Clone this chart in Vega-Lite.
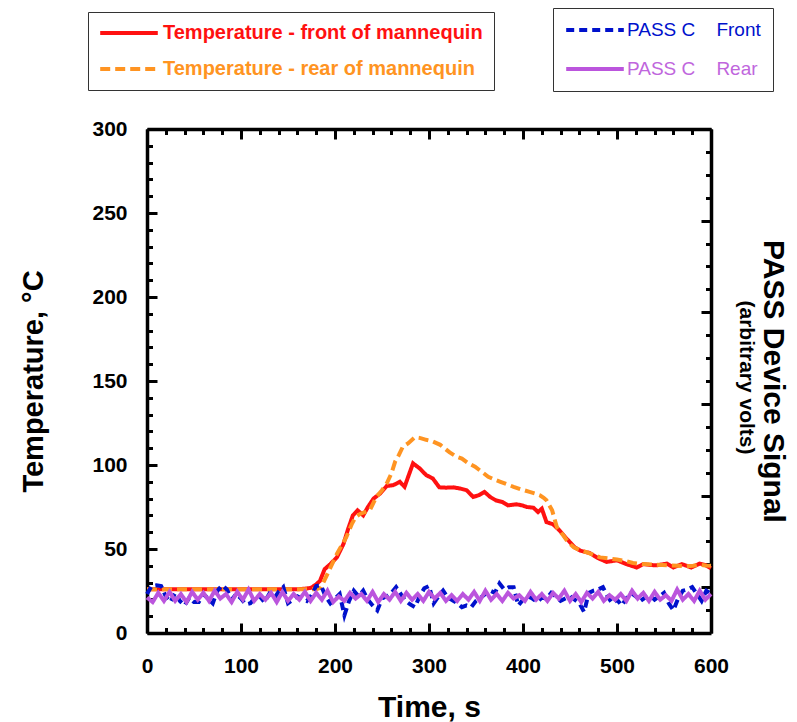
{
"$schema": "https://vega.github.io/schema/vega-lite/v6.json",
"width": 564, "height": 504,
"autosize": {"type": "none"},
"padding": {"left": 147, "top": 129, "right": 86, "bottom": 89},
"background": "white",
"config": {"view": {"stroke": null}, "font": "Liberation Sans"},
"datasets": {
"temp": [
{"t":0,"v":26,"s":"Temperature - front of mannequin"},{"t":10,"v":26,"s":"Temperature - front of mannequin"},{"t":20,"v":26,"s":"Temperature - front of mannequin"},{"t":30,"v":26,"s":"Temperature - front of mannequin"},{"t":40,"v":26,"s":"Temperature - front of mannequin"},{"t":50,"v":26,"s":"Temperature - front of mannequin"},{"t":60,"v":26,"s":"Temperature - front of mannequin"},{"t":70,"v":26,"s":"Temperature - front of mannequin"},{"t":80,"v":26,"s":"Temperature - front of mannequin"},{"t":90,"v":26,"s":"Temperature - front of mannequin"},{"t":100,"v":26,"s":"Temperature - front of mannequin"},{"t":110,"v":26,"s":"Temperature - front of mannequin"},{"t":120,"v":26,"s":"Temperature - front of mannequin"},{"t":130,"v":26,"s":"Temperature - front of mannequin"},{"t":140,"v":26,"s":"Temperature - front of mannequin"},{"t":150,"v":26,"s":"Temperature - front of mannequin"},{"t":160,"v":26,"s":"Temperature - front of mannequin"},{"t":170,"v":26.5,"s":"Temperature - front of mannequin"},{"t":175,"v":27,"s":"Temperature - front of mannequin"},{"t":180,"v":29,"s":"Temperature - front of mannequin"},{"t":184,"v":31,"s":"Temperature - front of mannequin"},{"t":189,"v":38,"s":"Temperature - front of mannequin"},{"t":195,"v":41,"s":"Temperature - front of mannequin"},{"t":202,"v":45,"s":"Temperature - front of mannequin"},{"t":209,"v":53,"s":"Temperature - front of mannequin"},{"t":214,"v":62,"s":"Temperature - front of mannequin"},{"t":219,"v":70,"s":"Temperature - front of mannequin"},{"t":224,"v":73,"s":"Temperature - front of mannequin"},{"t":230,"v":70,"s":"Temperature - front of mannequin"},{"t":235,"v":75,"s":"Temperature - front of mannequin"},{"t":241,"v":80,"s":"Temperature - front of mannequin"},{"t":248,"v":83,"s":"Temperature - front of mannequin"},{"t":255,"v":87.5,"s":"Temperature - front of mannequin"},{"t":262,"v":88,"s":"Temperature - front of mannequin"},{"t":269,"v":90,"s":"Temperature - front of mannequin"},{"t":274,"v":87,"s":"Temperature - front of mannequin"},{"t":283,"v":101,"s":"Temperature - front of mannequin"},{"t":290,"v":98,"s":"Temperature - front of mannequin"},{"t":297,"v":94,"s":"Temperature - front of mannequin"},{"t":304,"v":92,"s":"Temperature - front of mannequin"},{"t":311,"v":86.7,"s":"Temperature - front of mannequin"},{"t":318,"v":86.5,"s":"Temperature - front of mannequin"},{"t":326,"v":86.7,"s":"Temperature - front of mannequin"},{"t":333,"v":86,"s":"Temperature - front of mannequin"},{"t":340,"v":85,"s":"Temperature - front of mannequin"},{"t":347,"v":81,"s":"Temperature - front of mannequin"},{"t":353,"v":82,"s":"Temperature - front of mannequin"},{"t":359,"v":84,"s":"Temperature - front of mannequin"},{"t":365,"v":81,"s":"Temperature - front of mannequin"},{"t":371,"v":79,"s":"Temperature - front of mannequin"},{"t":378,"v":78,"s":"Temperature - front of mannequin"},{"t":384,"v":76,"s":"Temperature - front of mannequin"},{"t":393,"v":76.6,"s":"Temperature - front of mannequin"},{"t":399,"v":76,"s":"Temperature - front of mannequin"},{"t":404,"v":75,"s":"Temperature - front of mannequin"},{"t":411,"v":74.6,"s":"Temperature - front of mannequin"},{"t":416,"v":72,"s":"Temperature - front of mannequin"},{"t":420,"v":74,"s":"Temperature - front of mannequin"},{"t":425,"v":66,"s":"Temperature - front of mannequin"},{"t":432,"v":64.7,"s":"Temperature - front of mannequin"},{"t":439,"v":61,"s":"Temperature - front of mannequin"},{"t":445,"v":57,"s":"Temperature - front of mannequin"},{"t":450,"v":54,"s":"Temperature - front of mannequin"},{"t":455,"v":51,"s":"Temperature - front of mannequin"},{"t":461,"v":49,"s":"Temperature - front of mannequin"},{"t":471,"v":47.6,"s":"Temperature - front of mannequin"},{"t":480,"v":44.5,"s":"Temperature - front of mannequin"},{"t":489,"v":42.3,"s":"Temperature - front of mannequin"},{"t":500,"v":43.3,"s":"Temperature - front of mannequin"},{"t":510,"v":41,"s":"Temperature - front of mannequin"},{"t":521,"v":39,"s":"Temperature - front of mannequin"},{"t":528,"v":41,"s":"Temperature - front of mannequin"},{"t":535,"v":40.5,"s":"Temperature - front of mannequin"},{"t":542,"v":40.3,"s":"Temperature - front of mannequin"},{"t":553,"v":41.3,"s":"Temperature - front of mannequin"},{"t":560,"v":39,"s":"Temperature - front of mannequin"},{"t":569,"v":41,"s":"Temperature - front of mannequin"},{"t":579,"v":39,"s":"Temperature - front of mannequin"},{"t":588,"v":41.3,"s":"Temperature - front of mannequin"},{"t":594,"v":40.5,"s":"Temperature - front of mannequin"},{"t":600,"v":38.5,"s":"Temperature - front of mannequin"},
{"t":0,"v":26,"s":"Temperature - rear of mannequin"},{"t":20,"v":26,"s":"Temperature - rear of mannequin"},{"t":40,"v":26,"s":"Temperature - rear of mannequin"},{"t":60,"v":26,"s":"Temperature - rear of mannequin"},{"t":80,"v":26,"s":"Temperature - rear of mannequin"},{"t":100,"v":26,"s":"Temperature - rear of mannequin"},{"t":120,"v":26,"s":"Temperature - rear of mannequin"},{"t":140,"v":26,"s":"Temperature - rear of mannequin"},{"t":160,"v":26,"s":"Temperature - rear of mannequin"},{"t":180,"v":26,"s":"Temperature - rear of mannequin"},{"t":185,"v":27,"s":"Temperature - rear of mannequin"},{"t":191,"v":34,"s":"Temperature - rear of mannequin"},{"t":196,"v":40,"s":"Temperature - rear of mannequin"},{"t":202,"v":47,"s":"Temperature - rear of mannequin"},{"t":207,"v":52,"s":"Temperature - rear of mannequin"},{"t":212,"v":57,"s":"Temperature - rear of mannequin"},{"t":218,"v":65,"s":"Temperature - rear of mannequin"},{"t":222,"v":69,"s":"Temperature - rear of mannequin"},{"t":227,"v":71,"s":"Temperature - rear of mannequin"},{"t":232,"v":72,"s":"Temperature - rear of mannequin"},{"t":237,"v":73,"s":"Temperature - rear of mannequin"},{"t":244,"v":81,"s":"Temperature - rear of mannequin"},{"t":250,"v":85,"s":"Temperature - rear of mannequin"},{"t":255,"v":89,"s":"Temperature - rear of mannequin"},{"t":260,"v":95,"s":"Temperature - rear of mannequin"},{"t":264,"v":102,"s":"Temperature - rear of mannequin"},{"t":268,"v":106,"s":"Temperature - rear of mannequin"},{"t":272,"v":110.7,"s":"Temperature - rear of mannequin"},{"t":278,"v":113,"s":"Temperature - rear of mannequin"},{"t":285,"v":116.5,"s":"Temperature - rear of mannequin"},{"t":291,"v":116,"s":"Temperature - rear of mannequin"},{"t":297,"v":115,"s":"Temperature - rear of mannequin"},{"t":304,"v":114,"s":"Temperature - rear of mannequin"},{"t":312,"v":112,"s":"Temperature - rear of mannequin"},{"t":322,"v":107.5,"s":"Temperature - rear of mannequin"},{"t":329,"v":105,"s":"Temperature - rear of mannequin"},{"t":335,"v":103.8,"s":"Temperature - rear of mannequin"},{"t":342,"v":101,"s":"Temperature - rear of mannequin"},{"t":349,"v":99,"s":"Temperature - rear of mannequin"},{"t":356,"v":96,"s":"Temperature - rear of mannequin"},{"t":363,"v":93,"s":"Temperature - rear of mannequin"},{"t":369,"v":91.5,"s":"Temperature - rear of mannequin"},{"t":376,"v":90,"s":"Temperature - rear of mannequin"},{"t":383,"v":88.5,"s":"Temperature - rear of mannequin"},{"t":390,"v":87,"s":"Temperature - rear of mannequin"},{"t":398,"v":85.5,"s":"Temperature - rear of mannequin"},{"t":407,"v":84,"s":"Temperature - rear of mannequin"},{"t":413,"v":83,"s":"Temperature - rear of mannequin"},{"t":418,"v":82,"s":"Temperature - rear of mannequin"},{"t":422,"v":80.5,"s":"Temperature - rear of mannequin"},{"t":425,"v":79,"s":"Temperature - rear of mannequin"},{"t":428,"v":76,"s":"Temperature - rear of mannequin"},{"t":431,"v":73,"s":"Temperature - rear of mannequin"},{"t":434,"v":67,"s":"Temperature - rear of mannequin"},{"t":436,"v":63,"s":"Temperature - rear of mannequin"},{"t":443,"v":58,"s":"Temperature - rear of mannequin"},{"t":448,"v":54,"s":"Temperature - rear of mannequin"},{"t":454,"v":51,"s":"Temperature - rear of mannequin"},{"t":460,"v":49.5,"s":"Temperature - rear of mannequin"},{"t":468,"v":48,"s":"Temperature - rear of mannequin"},{"t":475,"v":46.5,"s":"Temperature - rear of mannequin"},{"t":482,"v":45,"s":"Temperature - rear of mannequin"},{"t":490,"v":44.5,"s":"Temperature - rear of mannequin"},{"t":500,"v":43.7,"s":"Temperature - rear of mannequin"},{"t":508,"v":43,"s":"Temperature - rear of mannequin"},{"t":517,"v":41.7,"s":"Temperature - rear of mannequin"},{"t":528,"v":41,"s":"Temperature - rear of mannequin"},{"t":539,"v":40.7,"s":"Temperature - rear of mannequin"},{"t":548,"v":40.5,"s":"Temperature - rear of mannequin"},{"t":556,"v":40.3,"s":"Temperature - rear of mannequin"},{"t":565,"v":40,"s":"Temperature - rear of mannequin"},{"t":574,"v":39.7,"s":"Temperature - rear of mannequin"},{"t":581,"v":40,"s":"Temperature - rear of mannequin"},{"t":588,"v":40.7,"s":"Temperature - rear of mannequin"},{"t":594,"v":40.2,"s":"Temperature - rear of mannequin"},{"t":600,"v":40,"s":"Temperature - rear of mannequin"}
],
"pass": [
{"t":0,"v":23.2,"s":"PASS C Front"},{"t":5,"v":28.0,"s":"PASS C Front"},{"t":10,"v":28.4,"s":"PASS C Front"},{"t":15,"v":28.0,"s":"PASS C Front"},{"t":20,"v":21.8,"s":"PASS C Front"},{"t":25,"v":18.4,"s":"PASS C Front"},{"t":30,"v":23.9,"s":"PASS C Front"},{"t":35,"v":19.1,"s":"PASS C Front"},{"t":40,"v":16.4,"s":"PASS C Front"},{"t":45,"v":21.1,"s":"PASS C Front"},{"t":50,"v":18.4,"s":"PASS C Front"},{"t":55,"v":18.4,"s":"PASS C Front"},{"t":60,"v":23.2,"s":"PASS C Front"},{"t":65,"v":20.5,"s":"PASS C Front"},{"t":70,"v":17.7,"s":"PASS C Front"},{"t":75,"v":25.2,"s":"PASS C Front"},{"t":80,"v":28.4,"s":"PASS C Front"},{"t":85,"v":25.9,"s":"PASS C Front"},{"t":90,"v":19.8,"s":"PASS C Front"},{"t":95,"v":23.2,"s":"PASS C Front"},{"t":100,"v":20.5,"s":"PASS C Front"},{"t":105,"v":17.0,"s":"PASS C Front"},{"t":110,"v":17.7,"s":"PASS C Front"},{"t":115,"v":21.1,"s":"PASS C Front"},{"t":120,"v":21.8,"s":"PASS C Front"},{"t":125,"v":18.4,"s":"PASS C Front"},{"t":130,"v":23.2,"s":"PASS C Front"},{"t":135,"v":20.5,"s":"PASS C Front"},{"t":140,"v":24.5,"s":"PASS C Front"},{"t":145,"v":27.3,"s":"PASS C Front"},{"t":150,"v":17.7,"s":"PASS C Front"},{"t":155,"v":19.8,"s":"PASS C Front"},{"t":160,"v":21.8,"s":"PASS C Front"},{"t":165,"v":20.5,"s":"PASS C Front"},{"t":170,"v":19.1,"s":"PASS C Front"},{"t":175,"v":22.5,"s":"PASS C Front"},{"t":180,"v":28.0,"s":"PASS C Front"},{"t":185,"v":28.4,"s":"PASS C Front"},{"t":190,"v":21.8,"s":"PASS C Front"},{"t":195,"v":17.7,"s":"PASS C Front"},{"t":200,"v":20.5,"s":"PASS C Front"},{"t":205,"v":23.2,"s":"PASS C Front"},{"t":210,"v":10.5,"s":"PASS C Front"},{"t":215,"v":19.1,"s":"PASS C Front"},{"t":220,"v":25.2,"s":"PASS C Front"},{"t":225,"v":21.8,"s":"PASS C Front"},{"t":230,"v":25.2,"s":"PASS C Front"},{"t":235,"v":19.8,"s":"PASS C Front"},{"t":240,"v":16.4,"s":"PASS C Front"},{"t":245,"v":13.5,"s":"PASS C Front"},{"t":250,"v":20.5,"s":"PASS C Front"},{"t":255,"v":21.8,"s":"PASS C Front"},{"t":260,"v":23.9,"s":"PASS C Front"},{"t":265,"v":27.3,"s":"PASS C Front"},{"t":270,"v":23.2,"s":"PASS C Front"},{"t":275,"v":19.1,"s":"PASS C Front"},{"t":280,"v":17.0,"s":"PASS C Front"},{"t":285,"v":15.4,"s":"PASS C Front"},{"t":290,"v":21.8,"s":"PASS C Front"},{"t":295,"v":26.6,"s":"PASS C Front"},{"t":300,"v":28.0,"s":"PASS C Front"},{"t":305,"v":17.7,"s":"PASS C Front"},{"t":310,"v":21.8,"s":"PASS C Front"},{"t":315,"v":25.2,"s":"PASS C Front"},{"t":320,"v":21.1,"s":"PASS C Front"},{"t":325,"v":19.5,"s":"PASS C Front"},{"t":330,"v":17.7,"s":"PASS C Front"},{"t":335,"v":15.4,"s":"PASS C Front"},{"t":340,"v":16.4,"s":"PASS C Front"},{"t":345,"v":15.4,"s":"PASS C Front"},{"t":350,"v":19.1,"s":"PASS C Front"},{"t":355,"v":21.1,"s":"PASS C Front"},{"t":360,"v":23.2,"s":"PASS C Front"},{"t":365,"v":25.2,"s":"PASS C Front"},{"t":370,"v":23.9,"s":"PASS C Front"},{"t":375,"v":29.5,"s":"PASS C Front"},{"t":380,"v":25.9,"s":"PASS C Front"},{"t":385,"v":27.3,"s":"PASS C Front"},{"t":390,"v":27.3,"s":"PASS C Front"},{"t":395,"v":16.4,"s":"PASS C Front"},{"t":400,"v":19.8,"s":"PASS C Front"},{"t":405,"v":21.8,"s":"PASS C Front"},{"t":410,"v":20.5,"s":"PASS C Front"},{"t":415,"v":18.4,"s":"PASS C Front"},{"t":420,"v":21.1,"s":"PASS C Front"},{"t":425,"v":20.5,"s":"PASS C Front"},{"t":430,"v":23.9,"s":"PASS C Front"},{"t":435,"v":21.8,"s":"PASS C Front"},{"t":440,"v":19.1,"s":"PASS C Front"},{"t":445,"v":20.5,"s":"PASS C Front"},{"t":450,"v":21.8,"s":"PASS C Front"},{"t":455,"v":19.8,"s":"PASS C Front"},{"t":460,"v":17.7,"s":"PASS C Front"},{"t":465,"v":12.5,"s":"PASS C Front"},{"t":470,"v":23.9,"s":"PASS C Front"},{"t":475,"v":25.2,"s":"PASS C Front"},{"t":480,"v":25.9,"s":"PASS C Front"},{"t":485,"v":27.3,"s":"PASS C Front"},{"t":490,"v":21.8,"s":"PASS C Front"},{"t":495,"v":17.7,"s":"PASS C Front"},{"t":500,"v":19.8,"s":"PASS C Front"},{"t":505,"v":16.4,"s":"PASS C Front"},{"t":510,"v":20.5,"s":"PASS C Front"},{"t":515,"v":23.9,"s":"PASS C Front"},{"t":520,"v":21.8,"s":"PASS C Front"},{"t":525,"v":19.1,"s":"PASS C Front"},{"t":530,"v":21.1,"s":"PASS C Front"},{"t":535,"v":22.5,"s":"PASS C Front"},{"t":540,"v":19.8,"s":"PASS C Front"},{"t":545,"v":21.8,"s":"PASS C Front"},{"t":550,"v":23.9,"s":"PASS C Front"},{"t":555,"v":17.7,"s":"PASS C Front"},{"t":560,"v":13.5,"s":"PASS C Front"},{"t":565,"v":20.5,"s":"PASS C Front"},{"t":570,"v":25.2,"s":"PASS C Front"},{"t":575,"v":25.9,"s":"PASS C Front"},{"t":580,"v":27.3,"s":"PASS C Front"},{"t":585,"v":23.2,"s":"PASS C Front"},{"t":590,"v":19.1,"s":"PASS C Front"},{"t":595,"v":25.2,"s":"PASS C Front"},{"t":600,"v":23.2,"s":"PASS C Front"},
{"t":0,"v":21.1,"s":"PASS C Rear"},{"t":6,"v":18.4,"s":"PASS C Rear"},{"t":12,"v":23.9,"s":"PASS C Rear"},{"t":18,"v":19.1,"s":"PASS C Rear"},{"t":24,"v":24.5,"s":"PASS C Rear"},{"t":30,"v":19.1,"s":"PASS C Rear"},{"t":36,"v":23.2,"s":"PASS C Rear"},{"t":42,"v":18.4,"s":"PASS C Rear"},{"t":48,"v":24.5,"s":"PASS C Rear"},{"t":54,"v":19.8,"s":"PASS C Rear"},{"t":60,"v":23.9,"s":"PASS C Rear"},{"t":66,"v":19.1,"s":"PASS C Rear"},{"t":72,"v":25.2,"s":"PASS C Rear"},{"t":78,"v":20.5,"s":"PASS C Rear"},{"t":84,"v":23.2,"s":"PASS C Rear"},{"t":90,"v":18.4,"s":"PASS C Rear"},{"t":96,"v":24.5,"s":"PASS C Rear"},{"t":102,"v":19.8,"s":"PASS C Rear"},{"t":108,"v":25.9,"s":"PASS C Rear"},{"t":114,"v":19.1,"s":"PASS C Rear"},{"t":120,"v":23.2,"s":"PASS C Rear"},{"t":126,"v":19.8,"s":"PASS C Rear"},{"t":132,"v":23.9,"s":"PASS C Rear"},{"t":138,"v":18.4,"s":"PASS C Rear"},{"t":144,"v":24.5,"s":"PASS C Rear"},{"t":150,"v":19.1,"s":"PASS C Rear"},{"t":156,"v":23.2,"s":"PASS C Rear"},{"t":162,"v":19.8,"s":"PASS C Rear"},{"t":168,"v":24.5,"s":"PASS C Rear"},{"t":174,"v":19.1,"s":"PASS C Rear"},{"t":180,"v":23.9,"s":"PASS C Rear"},{"t":186,"v":19.8,"s":"PASS C Rear"},{"t":192,"v":25.2,"s":"PASS C Rear"},{"t":198,"v":18.4,"s":"PASS C Rear"},{"t":204,"v":21.8,"s":"PASS C Rear"},{"t":210,"v":19.1,"s":"PASS C Rear"},{"t":216,"v":23.9,"s":"PASS C Rear"},{"t":222,"v":20.5,"s":"PASS C Rear"},{"t":228,"v":23.2,"s":"PASS C Rear"},{"t":234,"v":19.1,"s":"PASS C Rear"},{"t":240,"v":24.5,"s":"PASS C Rear"},{"t":246,"v":18.4,"s":"PASS C Rear"},{"t":252,"v":23.2,"s":"PASS C Rear"},{"t":258,"v":19.8,"s":"PASS C Rear"},{"t":264,"v":24.5,"s":"PASS C Rear"},{"t":270,"v":19.1,"s":"PASS C Rear"},{"t":276,"v":23.9,"s":"PASS C Rear"},{"t":282,"v":19.8,"s":"PASS C Rear"},{"t":288,"v":23.2,"s":"PASS C Rear"},{"t":294,"v":19.1,"s":"PASS C Rear"},{"t":300,"v":24.5,"s":"PASS C Rear"},{"t":306,"v":20.5,"s":"PASS C Rear"},{"t":312,"v":23.9,"s":"PASS C Rear"},{"t":318,"v":19.1,"s":"PASS C Rear"},{"t":324,"v":22.5,"s":"PASS C Rear"},{"t":330,"v":19.1,"s":"PASS C Rear"},{"t":336,"v":23.2,"s":"PASS C Rear"},{"t":342,"v":19.8,"s":"PASS C Rear"},{"t":348,"v":24.5,"s":"PASS C Rear"},{"t":354,"v":19.1,"s":"PASS C Rear"},{"t":360,"v":25.2,"s":"PASS C Rear"},{"t":366,"v":19.8,"s":"PASS C Rear"},{"t":372,"v":23.2,"s":"PASS C Rear"},{"t":378,"v":19.1,"s":"PASS C Rear"},{"t":384,"v":23.9,"s":"PASS C Rear"},{"t":390,"v":20.5,"s":"PASS C Rear"},{"t":396,"v":22.5,"s":"PASS C Rear"},{"t":402,"v":19.1,"s":"PASS C Rear"},{"t":408,"v":24.5,"s":"PASS C Rear"},{"t":414,"v":19.8,"s":"PASS C Rear"},{"t":420,"v":23.2,"s":"PASS C Rear"},{"t":426,"v":19.1,"s":"PASS C Rear"},{"t":432,"v":23.9,"s":"PASS C Rear"},{"t":438,"v":20.5,"s":"PASS C Rear"},{"t":444,"v":25.2,"s":"PASS C Rear"},{"t":450,"v":19.1,"s":"PASS C Rear"},{"t":456,"v":23.2,"s":"PASS C Rear"},{"t":462,"v":18.4,"s":"PASS C Rear"},{"t":468,"v":23.9,"s":"PASS C Rear"},{"t":474,"v":20.5,"s":"PASS C Rear"},{"t":480,"v":24.5,"s":"PASS C Rear"},{"t":486,"v":19.1,"s":"PASS C Rear"},{"t":492,"v":22.5,"s":"PASS C Rear"},{"t":498,"v":19.8,"s":"PASS C Rear"},{"t":504,"v":23.2,"s":"PASS C Rear"},{"t":510,"v":19.1,"s":"PASS C Rear"},{"t":516,"v":25.2,"s":"PASS C Rear"},{"t":522,"v":20.5,"s":"PASS C Rear"},{"t":528,"v":23.9,"s":"PASS C Rear"},{"t":534,"v":19.1,"s":"PASS C Rear"},{"t":540,"v":24.5,"s":"PASS C Rear"},{"t":546,"v":19.8,"s":"PASS C Rear"},{"t":552,"v":22.5,"s":"PASS C Rear"},{"t":558,"v":19.1,"s":"PASS C Rear"},{"t":564,"v":25.9,"s":"PASS C Rear"},{"t":570,"v":19.8,"s":"PASS C Rear"},{"t":576,"v":23.2,"s":"PASS C Rear"},{"t":582,"v":19.1,"s":"PASS C Rear"},{"t":588,"v":25.2,"s":"PASS C Rear"},{"t":594,"v":19.8,"s":"PASS C Rear"},{"t":600,"v":23.2,"s":"PASS C Rear"}
]
},
"layer": [
{
"data": {"name": "temp"},
"mark": {"type": "line", "strokeWidth": 4},
"encoding": {
"x": {"field": "t", "type": "quantitative", "scale": {"domain": [0, 600], "nice": false, "zero": false},
"axis": {"orient": "bottom", "values": [0,100,200,300,400,500,600], "grid": false, "ticks": false, "domainColor": "black", "domainWidth": 3.5,
"labelFont": "Liberation Sans", "labelFontSize": 21, "labelFontWeight": "bold", "labelColor": "black",
"labelPadding": 22, "labelFlush": false, "labelOverlap": false,
"title": "Time, s", "titleFont": "Liberation Sans", "titleFontSize": 30, "titleFontWeight": "bold", "titleColor": "black",
"titleX": 282, "titleY": 74, "titleAlign": "center", "titleBaseline": "middle"}},
"y": {"field": "v", "type": "quantitative", "scale": {"domain": [0, 300], "nice": false},
"axis": {"orient": "left", "values": [0,50,100,150,200,250,300], "grid": false, "ticks": false, "domainColor": "black", "domainWidth": 3.5,
"labelFont": "Liberation Sans", "labelFontSize": 21, "labelFontWeight": "bold", "labelColor": "black",
"labelPadding": 20, "labelFlush": false, "labelOverlap": false,
"title": "Temperature, °C", "titleFont": "Liberation Sans", "titleFontSize": 29, "titleFontWeight": "bold", "titleColor": "black",
"titleX": -114, "titleY": 252, "titleAngle": -90, "titleAlign": "center", "titleBaseline": "middle"}},
"color": {"field": "s", "type": "nominal",
"scale": {"domain": ["Temperature - front of mannequin", "Temperature - rear of mannequin"], "range": ["#ff1111", "#ff9422"]},
"legend": {"orient": "none", "legendX": -59, "legendY": -117, "title": null, "direction": "vertical",
"strokeColor": "#333333", "padding": 11, "rowPadding": 16,
"symbolType": "M-3.6,0H3.6", "symbolSize": 256, "symbolStrokeWidth": 4, "symbolOffset": 20,
"labelOffset": 24, "labelFont": "Liberation Sans", "labelFontSize": 20, "labelFontWeight": "bold", "labelLimit": 0,
"encode": {"symbols": {"update": {"strokeDash": {"signal": "indexof(datum.label, 'rear') >= 0 ? [10, 5] : [1, 0]"}}},
"labels": {"update": {"fill": {"signal": "indexof(datum.label, 'front') >= 0 ? '#ff1111' : '#ff9422'"}}}}}},
"strokeDash": {"field": "s", "type": "nominal", "legend": null,
"scale": {"domain": ["Temperature - front of mannequin", "Temperature - rear of mannequin", "PASS C Front", "PASS C Rear"], "range": [[1, 0], [10, 5], [8, 5], [1, 0]]}}
}
},
{
"data": {"name": "temp"},
"mark": {"type": "line", "opacity": 0},
"encoding": {
"x": {"field": "t", "type": "quantitative", "scale": {"domain": [0, 600], "nice": false, "zero": false},
"axis": {"orient": "bottom", "values": [0,100,200,300,400,500,600], "grid": false, "tickSize": -10, "tickColor": "black", "tickWidth": 3, "domain": false, "labels": true, "labelExpr": "''", "title": null}},
"y": {"field": "v", "type": "quantitative",
"axis": {"orient": "left", "offset": -10, "values": [0,50,100,150,200,250,300], "grid": false, "tickSize": 10, "tickColor": "black", "tickWidth": 3, "domain": false, "labels": true, "labelExpr": "''", "title": null}}
}
},
{
"data": {"name": "temp"},
"mark": {"type": "line", "opacity": 0},
"encoding": {
"x": {"field": "t", "type": "quantitative", "scale": {"domain": [0, 600], "nice": false, "zero": false},
"axis": {"orient": "bottom", "values": [20,40,60,80,120,140,160,180,220,240,260,280,320,340,360,380,420,440,460,480,520,540,560,580], "grid": false, "tickSize": -5.5, "tickColor": "black", "tickWidth": 3, "domain": false, "labels": true, "labelExpr": "''", "title": null}},
"y": {"field": "v", "type": "quantitative",
"axis": {"orient": "left", "offset": -5.5, "values": [10,20,30,40,60,70,80,90,110,120,130,140,160,170,180,190,210,220,230,240,260,270,280,290], "grid": false, "tickSize": 5.5, "tickColor": "black", "tickWidth": 3, "domain": false, "labels": true, "labelExpr": "''", "title": null}}
}
},
{
"data": {"name": "temp"},
"mark": {"type": "line", "opacity": 0},
"encoding": {
"x": {"field": "t", "type": "quantitative", "scale": {"domain": [0, 600], "nice": false, "zero": false},
"axis": {"orient": "top", "values": [0,600], "grid": false, "ticks": false, "domainColor": "black", "domainWidth": 3.5, "labels": false, "title": null}},
"y": {"field": "v", "type": "quantitative",
"axis": {"orient": "right", "values": [0,300], "grid": false, "ticks": false, "domainColor": "black", "domainWidth": 3.5, "labels": false,
"title": "PASS Device Signal", "titleFont": "Liberation Sans", "titleFontSize": 30, "titleFontWeight": "bold", "titleColor": "black",
"titleX": 61, "titleY": 252, "titleAngle": 90, "titleAlign": "center", "titleBaseline": "middle"}}
}
},
{
"data": {"name": "temp"},
"mark": {"type": "line", "opacity": 0},
"encoding": {
"x": {"field": "t", "type": "quantitative", "scale": {"domain": [0, 600], "nice": false, "zero": false},
"axis": {"orient": "top", "offset": -10, "values": [0,100,200,300,400,500,600], "grid": false, "tickSize": 10, "tickColor": "black", "tickWidth": 3, "domain": true, "domainOpacity": 0, "labels": false, "title": null}},
"y": {"field": "v", "type": "quantitative",
"axis": {"orient": "right", "values": [27.27,81.82,136.36,190.91,245.45,300], "grid": false, "tickSize": -10, "tickColor": "black", "tickWidth": 3, "domain": true, "domainOpacity": 0, "labels": false,
"title": "(arbitrary volts)", "titleFont": "Liberation Sans", "titleFontSize": 21, "titleFontWeight": "bold", "titleColor": "black",
"titleX": 34, "titleY": 248, "titleAngle": 90, "titleAlign": "center", "titleBaseline": "middle"}}
}
},
{
"data": {"name": "temp"},
"mark": {"type": "line", "opacity": 0},
"encoding": {
"x": {"field": "t", "type": "quantitative", "scale": {"domain": [0, 600], "nice": false, "zero": false},
"axis": {"orient": "top", "offset": -5.5, "values": [20,40,60,80,120,140,160,180,220,240,260,280,320,340,360,380,420,440,460,480,520,540,560,580], "grid": false, "tickSize": 5.5, "tickColor": "black", "tickWidth": 3, "domain": true, "domainOpacity": 0, "labels": false, "title": null}},
"y": {"field": "v", "type": "quantitative",
"axis": {"orient": "right", "values": [13.64,40.91,54.55,68.18,95.45,109.09,122.73,150,163.64,177.27,204.55,218.18,231.82,259.09,272.73,286.36], "grid": false, "tickSize": -5.5, "tickColor": "black", "tickWidth": 3, "domain": true, "domainOpacity": 0, "labels": false, "title": null}}
}
},
{
"data": {"name": "pass"},
"mark": {"type": "line", "strokeWidth": 4},
"encoding": {
"x": {"field": "t", "type": "quantitative", "scale": {"domain": [0, 600], "nice": false, "zero": false}, "axis": null},
"y": {"field": "v", "type": "quantitative", "axis": null},
"stroke": {"field": "s", "type": "nominal",
"scale": {"domain": ["PASS C Front", "PASS C Rear"], "range": ["#0011cc", "#bb55dd"]},
"legend": {"orient": "none", "legendX": 406, "legendY": -121, "title": null, "direction": "vertical",
"strokeColor": "#333333", "padding": 12, "rowPadding": 19,
"symbolType": "M-3.6,0H3.6", "symbolSize": 256, "symbolStrokeWidth": 4, "symbolOffset": 20,
"labelOffset": 22, "labelFont": "Liberation Sans", "labelFontSize": 19, "labelFontWeight": "normal", "labelLimit": 0,
"labelExpr": "replace(datum.label, 'C ', 'C\u00a0\u00a0\u00a0 ')",
"encode": {"symbols": {"update": {"strokeDash": {"signal": "indexof(datum.label, 'Front') >= 0 ? [8, 5] : [1, 0]"}}},
"labels": {"update": {"fill": {"signal": "indexof(datum.label, 'Front') >= 0 ? '#0011cc' : '#c066dd'"}}}}}},
"strokeDash": {"field": "s", "type": "nominal", "legend": null,
"scale": {"domain": ["Temperature - front of mannequin", "Temperature - rear of mannequin", "PASS C Front", "PASS C Rear"], "range": [[1, 0], [10, 5], [8, 5], [1, 0]]}}
}
}
],
"resolve": {"axis": {"x": "independent", "y": "independent"}}
}
